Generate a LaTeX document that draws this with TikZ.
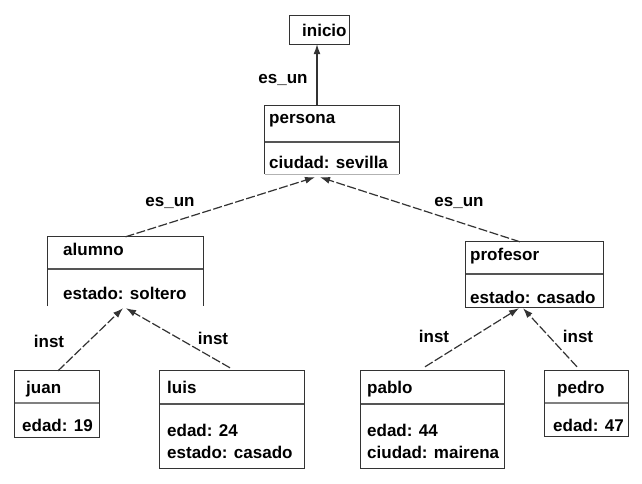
\documentclass[tikz,border=0pt]{standalone}
\usepackage{fontspec}
\setmainfont{Liberation Sans}
\usetikzlibrary{arrows.meta}
\definecolor{linec}{HTML}{333333}
\definecolor{sepc}{HTML}{555555}
\begin{document}
\begin{tikzpicture}[x=1pt,y=-1pt,
  boxn/.style={draw=none,inner sep=0pt,minimum width=#1},
  frame/.style={draw=linec,line width=1.3pt},
  sepline/.style={draw=sepc,line width=1.1pt},
  txt/.style={anchor=base west,inner sep=0pt,font=\fontsize{17}{19}\selectfont\bfseries,text=black},
  lbl/.style={inner sep=0pt,font=\fontsize{17}{19}\selectfont\bfseries,text=black},
  conn/.style={draw=linec,line width=1.2pt,-{Latex[length=10pt,width=7pt]}},
  dconn/.style={conn,dash pattern=on 9pt off 2.5pt}
]
\useasboundingbox (0,0) rectangle (642,483);
\fill[white] (0,0) rectangle (642,483);

% box nodes (geometry only)
\node[boxn=59pt,minimum height=28pt] (inicio) at (319.5,30) {};
\node[boxn=134pt,minimum height=68pt] (persona) at (332,140) {};
\node[boxn=155pt,minimum height=69pt] (alumno) at (125.5,271.5) {};
\node[boxn=137pt,minimum height=65pt] (profesor) at (534.5,274.5) {};
\node[boxn=84pt,minimum height=66pt] (juan) at (57,404) {};
\node[boxn=144pt,minimum height=97pt] (luis) at (232,419.5) {};
\node[boxn=143pt,minimum height=97pt] (pablo) at (432.5,419.5) {};
\node[boxn=83pt,minimum height=65pt] (pedro) at (586.5,403.5) {};

% frames
\draw[frame] (inicio.south west) rectangle (inicio.north east);
\draw[frame] (persona.south west) -- (persona.north west) -- (persona.north east) -- (persona.south east);
\draw[draw=gray!60,line width=0.8pt] (persona.south west) -- (persona.south east);
\draw[frame] (alumno.south west) -- (alumno.north west) -- (alumno.north east) -- (alumno.south east);
\draw[frame] (profesor.south west) rectangle (profesor.north east);
\draw[frame] (juan.south west) rectangle (juan.north east);
\draw[frame] (luis.south west) rectangle (luis.north east);
\draw[frame] (pablo.south west) rectangle (pablo.north east);
\draw[frame] (pedro.south west) rectangle (pedro.north east);

% separators
\draw[sepline] (265,142) -- (399,142);
\draw[sepline] (48,269) -- (203,269);
\draw[sepline] (466,274) -- (603,274);
\draw[sepline,draw=gray] (15,403) -- (99,403);
\draw[sepline] (160,404) -- (304,404);
\draw[sepline] (361,404) -- (504,404);
\draw[sepline,draw=gray] (545,403) -- (628,403);

% texts
\node[txt] (tinicio) at (302,36) {inicio};
\node[txt] (tpersona) at (269,123) {persona};
\node[txt] (tsevilla) at (269,168) {ciudad: sevilla};
\node[txt] (talumno) at (63,255) {alumno};
\node[txt] (tsoltero) at (63,299) {estado: soltero};
\node[txt] (tprofesor) at (470,260) {profesor};
\node[txt] (tcasadop) at (470,303) {estado: casado};
\node[txt] (tjuan) at (26,393) {juan};
\node[txt] (t19) at (22,431) {edad: 19};
\node[txt] (tluis) at (167,393) {luis};
\node[txt] (t24) at (167,436) {edad: 24};
\node[txt] (tcasadol) at (167,458) {estado: casado};
\node[txt] (tpablo) at (367,393) {pablo};
\node[txt] (t44) at (367,436) {edad: 44};
\node[txt] (tmairena) at (367,458) {ciudad: mairena};
\node[txt] (tpedro) at (557,393) {pedro};
\node[txt] (t47) at (553,431) {edad: 47};

% connector end points
\coordinate (pT) at ([xshift=-15pt]persona.north);
\coordinate (iB) at ([xshift=-2.5pt]inicio.south);
\coordinate (pB1) at ([xshift=-17pt,yshift=-3pt]persona.south);
\coordinate (pB2) at ([xshift=-12pt,yshift=-3pt]persona.south);
\coordinate (aT) at (alumno.north);
\coordinate (prT) at ([xshift=-14.5pt]profesor.north);
\coordinate (aB1) at ([xshift=-2.5pt,yshift=-2pt]alumno.south);
\coordinate (aB2) at ([xshift=0.5pt,yshift=-2pt]alumno.south);
\coordinate (prB1) at ([xshift=-15.5pt,yshift=-1pt]profesor.south);
\coordinate (prB2) at ([xshift=-11.5pt,yshift=-1pt]profesor.south);
\coordinate (jT) at ([xshift=1pt]juan.north);
\coordinate (lT) at ([xshift=-2pt,yshift=3pt]luis.north);
\coordinate (paT) at ([xshift=-7.5pt,yshift=4pt]pablo.north);
\coordinate (peT) at ([xshift=-9.5pt,yshift=4pt]pedro.north);

% connectors
\draw[conn] (pT) -- (iB);
\draw[dconn] (aT) -- (pB1);
\draw[dconn] (prT) -- (pB2);
\draw[dconn] (jT) -- (aB1);
\draw[dconn] (lT) -- (aB2);
\draw[dconn] (paT) -- (prB1);
\draw[dconn] (peT) -- (prB2);

% labels
\node[lbl] (l1) at (283,80) {es\_un};
\node[lbl] (l2) at (170,203) {es\_un};
\node[lbl] (l3) at (459,203) {es\_un};
\node[lbl] (l4) at (49,341) {inst};
\node[lbl] (l5) at (213,338) {inst};
\node[lbl] (l6) at (434,336) {inst};
\node[lbl] (l7) at (578,336) {inst};
\end{tikzpicture}
\end{document}
